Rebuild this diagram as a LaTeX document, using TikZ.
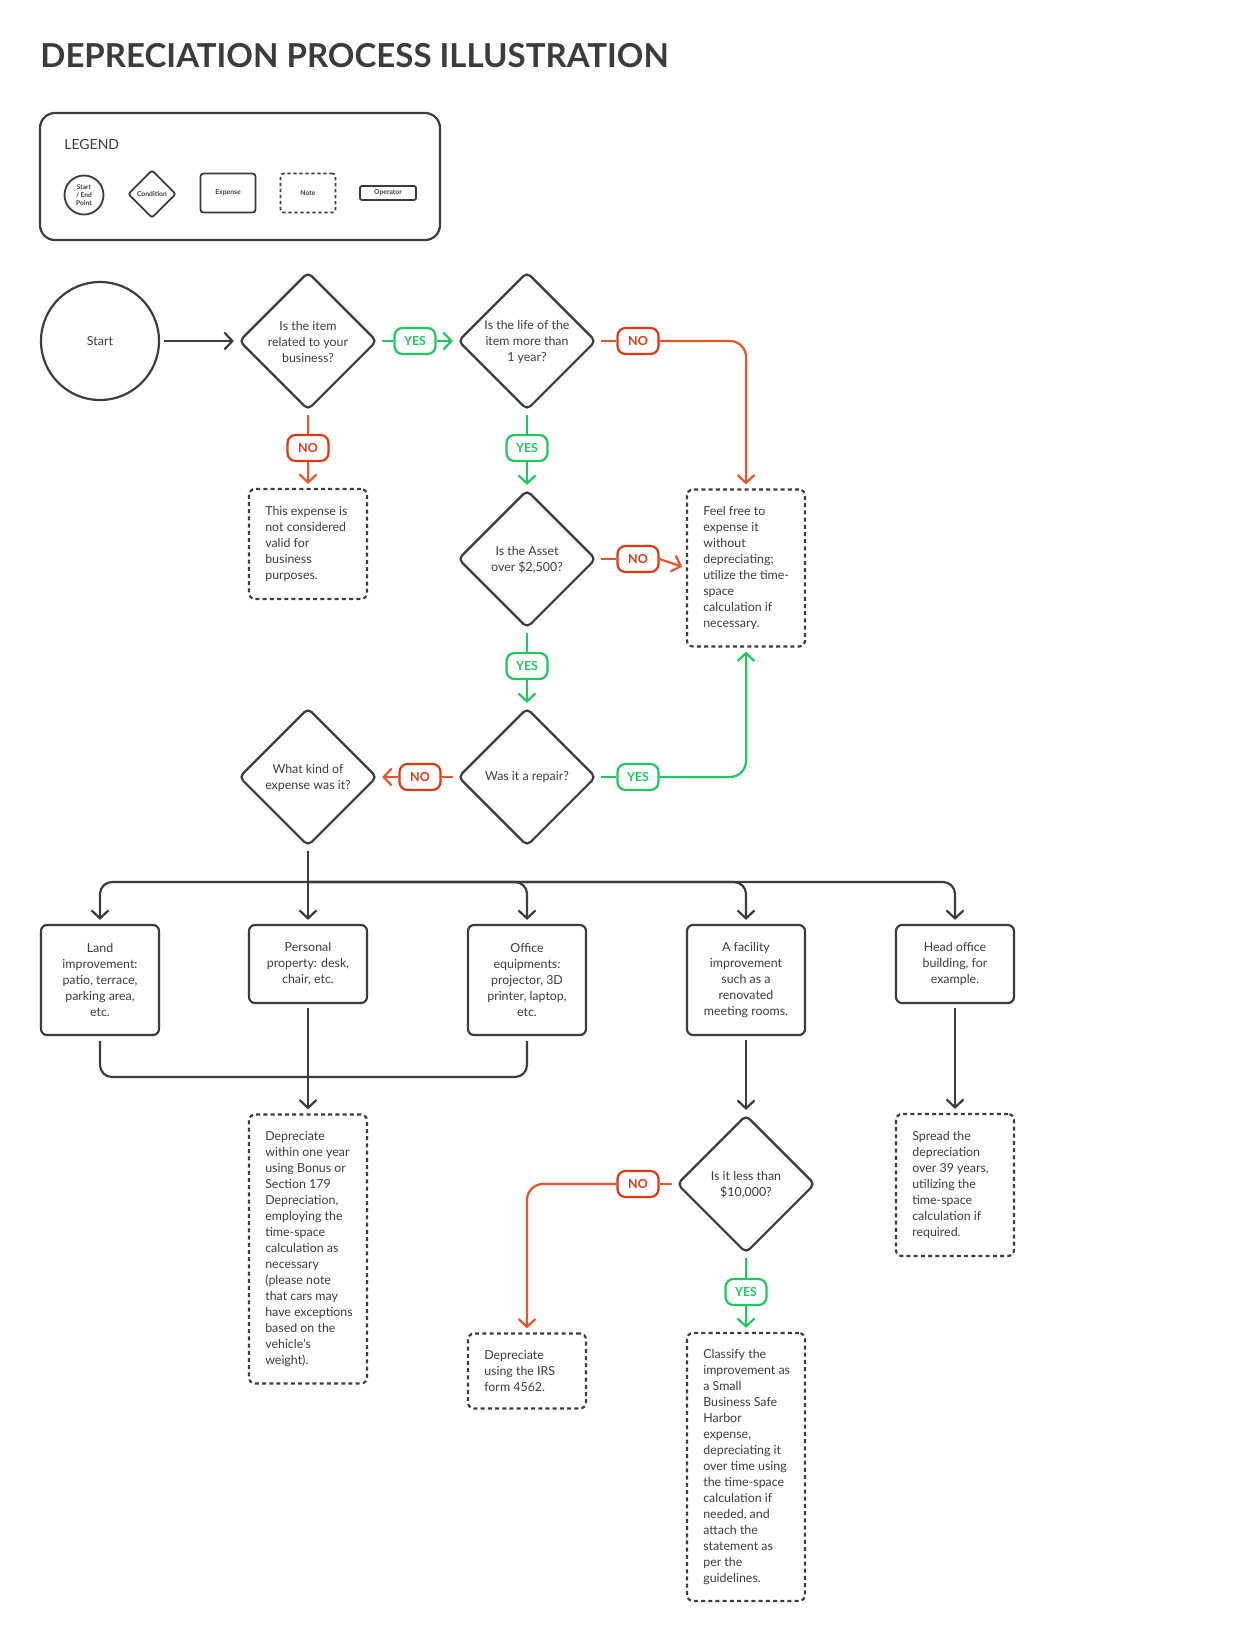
\documentclass[tikz,border=0pt]{standalone}
\usepackage{fontspec}
\setmainfont{Lato}
\usetikzlibrary{arrows.meta,shapes.geometric}
\definecolor{ink}{HTML}{3C3C3C}
\definecolor{redc}{HTML}{DD3A14}
\definecolor{redl}{HTML}{E4572E}
\definecolor{greenc}{HTML}{22C55E}
\begin{document}
\begin{tikzpicture}[x=0.5pt,y=-0.5pt,
  txt/.style={font=\fontsize{6.2}{8}\selectfont, text=ink, inner sep=0pt},
  dia/.style={diamond, aspect=1, draw=ink, line width=1.1pt, minimum width=69pt, minimum height=69pt, inner sep=0pt, rounded corners=2.5pt},
  dtext/.style={txt, align=center},
  box/.style={rectangle, draw=ink, line width=1.1pt, rounded corners=3pt, align=center, txt, minimum width=59pt},
  note/.style={rectangle, draw=ink, line width=1.1pt, rounded corners=3pt, dash pattern=on 2pt off 1.6pt, minimum width=59pt, inner sep=0pt},
  ntext/.style={txt, align=left, anchor=west},
  lab/.style={rectangle, rounded corners=4pt, draw, line width=1.1pt, fill=white, minimum width=20.5pt, minimum height=13pt, inner sep=0pt, font=\fontsize{6.2}{8}\selectfont\bfseries},
  yes/.style={lab, draw=greenc, text=greenc},
  no/.style={lab, draw=redc, text=redc},
  conn/.style={draw=ink, line width=1.1pt},
  arr/.style={-{Straight Barb[length=4pt,width=8.5pt]}},
  gl/.style={draw=greenc, line width=1.1pt},
  rl/.style={draw=redl, line width=1.1pt},
  sg/.style={shorten <=2pt},
  eg/.style={shorten >=2pt}
]
\useasboundingbox (0,0) rectangle (1240,1651);
\fill[white] (0,0) rectangle (1240,1651);

% title
\node[anchor=west, inner sep=0pt, text=ink, font=\fontsize{16.5}{20}\selectfont\bfseries] (title) at (40,56) {DEPRECIATION PROCESS ILLUSTRATION};

% legend
\node[draw=ink, line width=1.1pt, rounded corners=7.5pt, minimum width=200pt, minimum height=63.5pt, inner sep=0pt] (legend) at (240,176.5) {};
\node[anchor=west, inner sep=0pt, text=ink, font=\fontsize{7}{8}\selectfont] (legt) at (64,144.5) {LEGEND};
\node[circle, draw=ink, line width=0.9pt, minimum size=19.5pt, inner sep=0pt, align=center, text=ink, font=\fontsize{3.3}{3.9}\selectfont\bfseries] (lg1) at (84,195) {Start\\/ End\\Point};
\node[diamond, aspect=1, draw=ink, line width=0.9pt, minimum width=24pt, minimum height=24pt, inner sep=0pt, rounded corners=1.2pt] (lg2) at (152,194) {};
\node[text=ink, inner sep=0pt, font=\fontsize{3.4}{4}\selectfont\bfseries] (lg2t) at (lg2) {Condition};
\node[draw=ink, line width=0.9pt, rounded corners=1.5pt, minimum width=27.5pt, minimum height=19.5pt, inner sep=0pt, text=ink, font=\fontsize{3.4}{4}\selectfont\bfseries] (lg3) at (228,193) {Expense};
\node[draw=ink, line width=0.9pt, rounded corners=1.5pt, dash pattern=on 1.6pt off 1.4pt, minimum width=27.5pt, minimum height=19.5pt, inner sep=0pt, text=ink, font=\fontsize{3.4}{4}\selectfont\bfseries] (lg4) at (308,193) {Note};
\node[draw=ink, line width=0.9pt, rounded corners=1pt, minimum width=28pt, minimum height=7pt, inner sep=0pt, text=ink, font=\fontsize{3.4}{4}\selectfont\bfseries] (lg5) at (388,193) {Operator};

% start
\node[circle, draw=ink, line width=1.1pt, minimum size=59pt, inner sep=0pt, txt] (start) at (100,341) {Start};

% diamonds
\node[dia] (d1) at (308,341) {};
\node[dtext] (d1t) at ([yshift=-0.5pt]d1.center) {Is the item\\related to your\\business?};
\node[dia] (d2) at (527,341) {};
\node[dtext] (d2t) at ([yshift=-0.5pt]d2.center) {Is the life of the\\item more than\\1 year?};
\node[dia] (d3) at (527,559) {};
\node[dtext] (d3t) at ([yshift=-0.5pt]d3.center) {Is the Asset\\over \$2,500?};
\node[dia] (d4) at (527,777) {};
\node[dtext] (d4t) at (d4) {Was it a repair?};
\node[dia] (d5) at (308,777) {};
\node[dtext] (d5t) at ([yshift=-0.5pt]d5.center) {What kind of\\expense was it?};
\node[dia] (d6) at (746,1184) {};
\node[dtext] (d6t) at ([yshift=-0.5pt]d6.center) {Is it less than\\\$10,000?};

% notes
\node[note, minimum height=55pt] (n1) at (308,544) {};
\node[ntext] (n1t) at ([xshift=8.5pt]n1.west) {This expense is\\not considered\\valid for\\business\\purposes.};
\node[note, minimum height=78.5pt] (n2) at (746,568) {};
\node[ntext] (n2t) at ([xshift=8.5pt]n2.west) {Feel free to\\expense it\\without\\depreciating;\\utilize the time-\\space\\calculation if\\necessary.};
\node[note, minimum height=134.5pt] (n3) at (308,1249) {};
\node[ntext] (n3t) at ([xshift=8.5pt]n3.west) {Depreciate\\within one year\\using Bonus or\\Section 179\\Depreciation,\\employing the\\time-space\\calculation as\\necessary\\(please note\\that cars may\\have exceptions\\based on the\\vehicle's\\weight).};
\node[note, minimum height=37.5pt] (n4) at (527,1371) {};
\node[ntext] (n4t) at ([xshift=8.5pt]n4.west) {Depreciate\\using the IRS\\form 4562.};
\node[note, minimum height=134pt] (n5) at (746,1467) {};
\node[ntext] (n5t) at ([xshift=8.5pt]n5.west) {Classify the\\improvement as\\a Small\\Business Safe\\Harbor\\expense,\\depreciating it\\over time using\\the time-space\\calculation if\\needed, and\\attach the\\statement as\\per the\\guidelines.};
\node[note, minimum height=71pt] (n6) at (955,1185) {};
\node[ntext] (n6t) at ([xshift=8.5pt]n6.west) {Spread the\\depreciation\\over 39 years,\\utilizing the\\time-space\\calculation if\\required.};

% expense boxes
\node[box, minimum height=55pt] (b1) at (100,980) {Land\\improvement:\\patio, terrace,\\parking area,\\etc.};
\node[box, minimum height=39pt] (b2) at (308,964) {Personal\\property: desk,\\chair, etc.};
\node[box, minimum height=55pt] (b3) at (527,980) {Office\\equipments:\\projector, 3D\\printer, laptop,\\etc.};
\node[box, minimum height=55pt] (b4) at (746,980) {A facility\\improvement\\such as a\\renovated\\meeting rooms.};
\node[box, minimum height=39pt] (b5) at (955,964) {Head office\\building, for\\example.};

% labels
\node[yes] (yes1) at (415,341) {YES};
\node[no] (no2) at (638,341) {NO};
\node[no] (no1) at (308,448) {NO};
\node[yes] (yes2) at (527,448) {YES};
\node[no] (no3) at (638,559) {NO};
\node[yes] (yes3) at (527,666) {YES};
\node[yes] (yes4) at (638,777) {YES};
\node[no] (no4) at (420,777) {NO};
\node[no] (no6) at (638,1184) {NO};
\node[yes] (yes6) at (746,1292) {YES};

% connectors
\draw[conn, arr, sg, eg] (start) -- (d1.west);
\draw[gl, sg] (d1.east) -- (yes1.west);
\draw[gl, arr, eg] (yes1.east) -- (d2.west);
\draw[rl, sg] (d2.east) -- (no2.west);
\draw[rl, arr, eg, rounded corners=8pt] (no2.east) -| (n2.north);
\draw[rl, sg] (d1.south) -- (no1.north);
\draw[rl, arr, eg] (no1.south) -- (n1.north);
\draw[gl, sg] (d2.south) -- (yes2.north);
\draw[gl, arr, eg] (yes2.south) -- (d3.north);
\draw[rl, sg] (d3.east) -- (no3.west);
\draw[rl, arr, eg] (no3.east) -- (n2.west);
\draw[gl, sg] (d3.south) -- (yes3.north);
\draw[gl, arr, eg] (yes3.south) -- (d4.north);
\draw[gl, sg] (d4.east) -- (yes4.west);
\draw[gl, arr, eg, rounded corners=8pt] (yes4.east) -| (n2.south);
\draw[rl, sg] (d4.west) -- (no4.east);
\draw[rl, arr, eg] (no4.west) -- (d5.east);

\coordinate (bus) at (308,882);
\draw[conn, sg] (d5.south) -- (bus);
\draw[conn, arr, eg, rounded corners=6pt] (bus) -| (b1.north);
\draw[conn, arr, eg] (bus) -- (b2.north);
\draw[conn, arr, eg, rounded corners=6pt] (bus) -| (b3.north);
\draw[conn, arr, eg, rounded corners=6pt] (bus) -| (b4.north);
\draw[conn, arr, eg, rounded corners=6pt] (bus) -| (b5.north);

\coordinate (merge) at (308,1077);
\draw[conn, shorten <=2.5pt, shorten >=2.5pt, rounded corners=6pt] (b1.south) |- (merge) -| (b3.south);
\draw[conn, arr, sg, eg] (b2.south) -- (n3.north);
\draw[conn, arr, sg, eg] (b4.south) -- (d6.north);
\draw[conn, arr, sg, eg] (b5.south) -- (n6.north);

\draw[rl, sg] (d6.west) -- (no6.east);
\draw[rl, arr, eg, rounded corners=8pt] (no6.west) -| (n4.north);
\draw[gl, sg] (d6.south) -- (yes6.north);
\draw[gl, arr, eg] (yes6.south) -- (n5.north);
\end{tikzpicture}
\end{document}
